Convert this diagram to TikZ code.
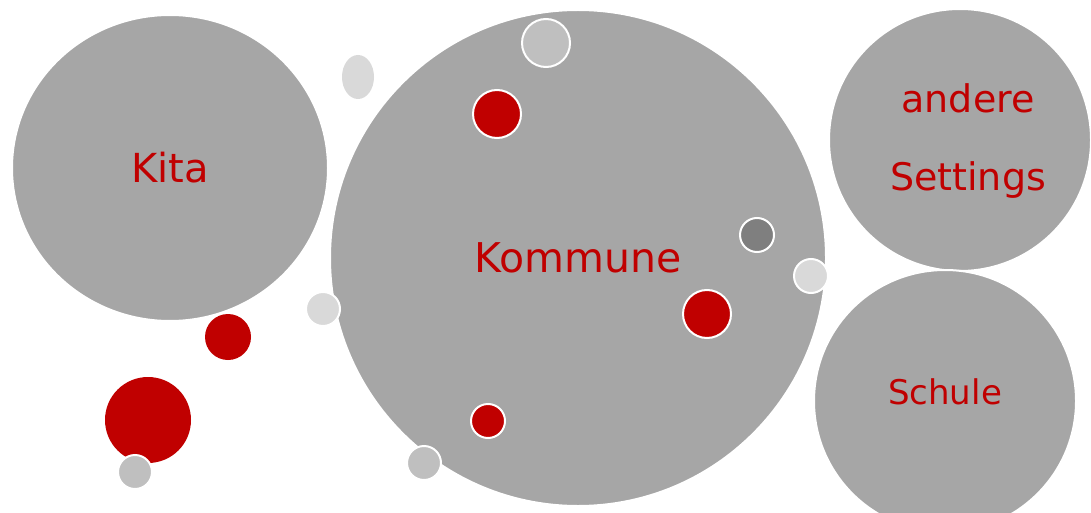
\documentclass[tikz,border=0pt]{standalone}
\usepackage{fontspec}
\setmainfont{DejaVu Sans}
\usetikzlibrary{shapes.geometric}
\definecolor{bigfill}{HTML}{A6A6A6}
\definecolor{redfill}{HTML}{C00000}
\definecolor{midgray}{HTML}{BFBFBF}
\definecolor{lightgray}{HTML}{D9D9D9}
\definecolor{darkgray}{HTML}{7F7F7F}
\tikzset{
  bigcircle/.style={circle, fill=bigfill, draw=white, line width=2pt, inner sep=0pt, text=redfill},
  lbl/.style={text=redfill, inner sep=0pt, align=center},
  dot/.style={circle, inner sep=0pt, draw=white, line width=2pt},
  reddot/.style={dot, fill=redfill},
  graydot/.style={dot, fill=midgray},
  lightdot/.style={dot, fill=lightgray},
  darkdot/.style={dot, fill=darkgray},
}
\begin{document}
\begin{tikzpicture}[x=1pt,y=-1pt]
\useasboundingbox (0,0) rectangle (1091,513);
\fill[white] (0,0) rectangle (1091,513);
% large circles
\node[bigcircle, ellipse, minimum width=316pt, minimum height=306pt, font=\fontsize{40}{48}\selectfont] (kita) at (170,168) {Kita};
\node[bigcircle, minimum size=496pt, font=\fontsize{41}{49}\selectfont] (kommune) at (578,258) {Kommune};
\node[bigcircle, minimum size=262pt] (andere) at (960,140) {};
\node[lbl, font=\fontsize{38}{78}\selectfont] (anderetext) at (968,141) {andere\\Settings};
\node[bigcircle, minimum size=262pt] (schule) at (945,401) {};
\node[lbl, font=\fontsize{34}{40}\selectfont] (schuletext) at (945,392) {Schule};
% small circles
\node[ellipse, fill=lightgray, inner sep=0pt, minimum width=32pt, minimum height=44pt] (oval) at (358,77) {};
\node[graydot, minimum size=48pt] (g1) at (546,43) {};
\node[reddot, minimum size=48pt] (r1) at (497,114) {};
\node[darkdot, minimum size=34pt] (d1) at (757,235) {};
\node[lightdot, minimum size=34pt] (l1) at (811,276) {};
\node[reddot, minimum size=48pt] (r2) at (707,314) {};
\node[reddot, minimum size=34pt] (r3) at (488,421) {};
\node[graydot, minimum size=34pt] (g2) at (424,463) {};
\node[lightdot, minimum size=34pt] (l2) at (323,309) {};
\node[circle, fill=redfill, inner sep=0pt, minimum size=46pt] (r4) at (228,337) {};
\node[circle, fill=redfill, inner sep=0pt, minimum size=86pt] (r5) at (148,420) {};
\node[graydot, minimum size=34pt] (g3) at (135,472) {};
\end{tikzpicture}
\end{document}
